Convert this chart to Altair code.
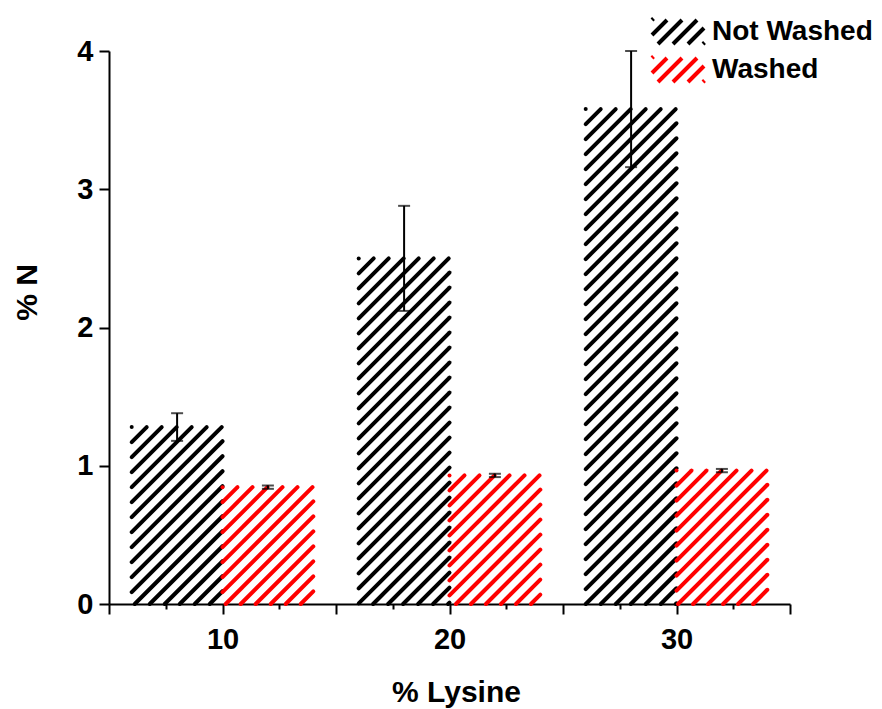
import altair as alt
import pandas as pd

# % N measured at each lysine loading
lysine = [10, 20, 30]
not_washed = [1.28, 2.50, 3.58]
not_washed_err = [0.10, 0.38, 0.42]
washed = [0.845, 0.93, 0.965]
washed_err = [0.012, 0.012, 0.012]

series_names = ["Not Washed", "Washed"]
series_colors = ["#000000", "#FF0000"]
x_ticks = [5, 7.5, 10, 12.5, 15, 17.5, 20, 22.5, 25, 27.5, 30, 32.5, 35]
y_ticks = [0, 1, 2, 3, 4]

# plot area and scale geometry
W, H = 681, 553
X_DOMAIN = [5, 35]
Y_DOMAIN = [0, 4]
BAR_W = 4            # bar width in % lysine units
HATCH_STEP = 15      # px between hatch lines (horizontal / vertical)
HATCH_WIDTH = 4.0
FONT = "Liberation Sans"

sx = W / (X_DOMAIN[1] - X_DOMAIN[0])
sy = H / (Y_DOMAIN[1] - Y_DOMAIN[0])

rows = []
for i, lv in enumerate(lysine):
    rows.append(dict(series=series_names[0], x0=lv - BAR_W, x1=lv, xc=lv - BAR_W / 2,
                     value=not_washed[i], err=not_washed_err[i]))
    rows.append(dict(series=series_names[1], x0=lv, x1=lv + BAR_W, xc=lv + BAR_W / 2,
                     value=washed[i], err=washed_err[i]))
bars = pd.DataFrame(rows)
bars["lo"] = bars["value"] - bars["err"]
bars["hi"] = bars["value"] + bars["err"]


def hatch_segments(x0, value, series):
    """45-degree '/' hatch lines clipped to one bar, anchored at its top-left corner."""
    w_px = BAR_W * sx
    h_px = value * sy
    segs = []
    k = 0
    while HATCH_STEP * k - h_px <= w_px:
        u0 = max(0.0, HATCH_STEP * k - h_px)
        u1 = min(w_px, HATCH_STEP * k)
        if u0 <= u1:
            v0 = u0 + h_px - HATCH_STEP * k
            v1 = u1 + h_px - HATCH_STEP * k
            segs.append(dict(series=series, hx0=x0 + u0 / sx, hy0=v0 / sy,
                             hx1=x0 + u1 / sx, hy1=v1 / sy))
        k += 1
    return segs


hatch_rows = []
for _, r in bars.iterrows():
    hatch_rows += hatch_segments(r["x0"], r["value"], r["series"])
hatch = pd.DataFrame(hatch_rows)

caps = pd.concat([
    bars[["series", "xc", "lo"]].rename(columns={"lo": "cap"}),
    bars[["series", "xc", "hi"]].rename(columns={"hi": "cap"}),
])


# legend swatch: the same hatch drawn as a symbol path (10 px per path unit)
def swatch_path(w=52, h=24, cx=10, cy=12, unit=10.0):
    parts = []
    k = 0
    while HATCH_STEP * k - h <= w:
        u0 = max(0.0, HATCH_STEP * k - h)
        u1 = min(w, HATCH_STEP * k)
        if u0 <= u1:
            if u1 - u0 < 1.5:
                u1 = u0 + 1.5
            v0 = u0 + h - HATCH_STEP * k
            v1 = u1 + h - HATCH_STEP * k
            parts.append("M%.3f,%.3f L%.3f,%.3f" % ((u0 - cx) / unit, (cy - v0) / unit,
                                                  (u1 - cx) / unit, (cy - v1) / unit))
        k += 1
    return " ".join(parts)


x_scale = alt.Scale(domain=X_DOMAIN, nice=False, zero=False)
y_scale = alt.Scale(domain=Y_DOMAIN, nice=False)
color_scale = alt.Scale(domain=series_names, range=series_colors)

x_axis = alt.Axis(
    values=x_ticks, title="% Lysine",
    labelExpr="datum.value % 10 === 0 ? datum.label : ''",
    tickSize={"condition": {"test": "datum.value % 5 === 0", "value": 10}, "value": 5},
    labelPadding=11, titleX=347, titleY=97, titleBaseline="alphabetic",
    titleAnchor="start", titleAlign="center",
)
y_axis = alt.Axis(
    values=y_ticks, format="d", title="% N", tickSize=10, labelPadding=6,
    titleX=-73, titleY=241, titleAngle=-90, titleBaseline="alphabetic",
    titleAlign="center",
)

frame = alt.Chart(bars).mark_rect(fillOpacity=0, strokeOpacity=0).encode(
    x=alt.X("x0:Q", scale=x_scale, axis=x_axis),
    x2="x1:Q",
    y=alt.Y("value:Q", scale=y_scale, axis=y_axis),
    y2=alt.datum(0),
)

hatch_layer = alt.Chart(hatch).mark_rule(strokeWidth=HATCH_WIDTH, strokeCap="round").encode(
    x=alt.X("hx0:Q", scale=x_scale),
    x2="hx1:Q",
    y=alt.Y("hy0:Q", scale=y_scale),
    y2="hy1:Q",
    color=alt.Color(
        "series:N", scale=color_scale,
        legend=alt.Legend(
            title=None, orient="none", legendX=539, legendY=-33, padding=0,
            symbolType=swatch_path(), symbolSize=400, symbolStrokeWidth=HATCH_WIDTH,
            symbolFillColor="transparent",
            labelFont=FONT, labelFontSize=28, labelFontWeight="bold", labelColor="#000",
            labelOffset=36, labelLimit=400, rowPadding=-4,
        ),
    ),
)

err_rule = alt.Chart(bars).mark_rule(color="black", strokeWidth=2).encode(
    x=alt.X("xc:Q", scale=x_scale), y=alt.Y("lo:Q", scale=y_scale), y2="hi:Q"
)
err_caps = alt.Chart(caps).mark_tick(color="black", orient="horizontal", size=12, thickness=2).encode(
    x=alt.X("xc:Q", scale=x_scale), y=alt.Y("cap:Q", scale=y_scale)
)

chart = alt.layer(frame, hatch_layer, err_rule, err_caps).properties(
    width=W, height=H,
    autosize=alt.AutoSizeParams(type="none"),
    padding={"left": 109, "top": 51, "right": 92, "bottom": 105},
    background="white",
).configure_view(stroke=None).configure_axis(
    domainColor="black", domainWidth=2, tickColor="black", tickWidth=2,
    labelFont=FONT, labelFontSize=29, labelFontWeight="bold", labelColor="black",
    titleFont=FONT, titleFontSize=30, titleFontWeight="bold", titleColor="black",
    grid=False, labelFlush=False, labelOverlap=False,
)

chart.save("out.html", embed_options={"renderer": "svg", "actions": False})
